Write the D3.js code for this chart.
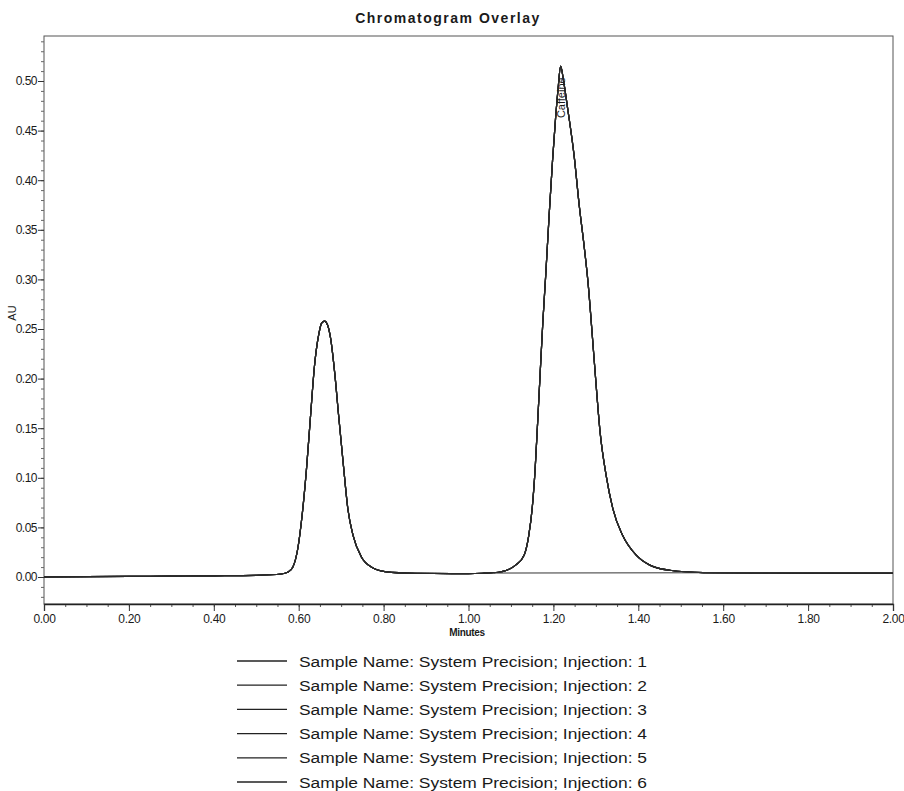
<!DOCTYPE html>
<html>
<head>
<meta charset="utf-8">
<script src="https://cdn.jsdelivr.net/npm/d3@7"></script>
<style>
  html, body { margin: 0; padding: 0; background: #fff; }
  svg { display: block; }
  text { font-family: "Liberation Sans", Arial, sans-serif; fill: #1a1a1a; }
</style>
</head>
<body>
<svg id="chart" width="904" height="791"></svg>
<script>
// ---- data ----
const title = "Chromatogram Overlay";
const xLabel = "Minutes";
const yLabel = "AU";
const peakName = "Caffeine";
const peakTime = 1.217;
const peakHeight = 0.515;

const xTickValues = [0.00, 0.20, 0.40, 0.60, 0.80, 1.00, 1.20, 1.40, 1.60, 1.80, 2.00];
const yTickValues = [0.00, 0.05, 0.10, 0.15, 0.20, 0.25, 0.30, 0.35, 0.40, 0.45, 0.50];

// retention time (min) and absorbance (AU) of the overlaid traces
const times = [0.00,0.10,0.20,0.30,0.40,0.50,0.559,
  0.575,0.586,0.598,0.608,0.618,0.628,0.637,0.647,0.654,0.661,
  0.668,0.675,0.685,0.694,0.705,0.716,0.728,0.748,0.772,0.803,
  0.874,0.96,1.00,1.032,
  1.071,1.111,1.131,1.142,1.150,1.157,1.163,1.169,1.175,1.182,
  1.190,1.198,1.205,1.211,1.217,
  1.224,1.233,1.249,1.261,1.272,1.282,1.291,1.300,1.310,1.324,
  1.340,1.363,1.395,1.427,1.474,1.553,1.671,
  1.80,1.90,2.00];
const absorbance = [0.000,0.0003,0.0006,0.0009,0.0012,0.0017,0.0030,
  0.0050,0.0098,0.029,0.062,0.107,0.163,0.212,0.244,0.256,0.258,
  0.254,0.241,0.205,0.163,0.114,0.068,0.042,0.020,0.0098,0.0055,
  0.0038,0.0035,0.0035,0.0038,
  0.0048,0.012,0.022,0.042,0.069,0.109,0.157,0.207,0.256,0.305,
  0.365,0.420,0.462,0.492,0.515,
  0.500,0.474,0.424,0.374,0.335,0.295,0.247,0.197,0.146,0.103,
  0.069,0.042,0.022,0.012,0.0068,0.0045,0.0042,
  0.0040,0.0040,0.0040];

// integration baseline under the caffeine peak
const baselineTimes = [1.06, 2.00];
const baselineAU = [0.0040, 0.0045];

const injections = ["1", "2", "3", "4", "5", "6"];
const legendPrefix = "Sample Name: System Precision; Injection: ";

// ---- layout ----
const svg = d3.select("#chart");
const plotLeft = 44, plotRight = 893, plotTop = 36, plotBottom = 604;

const x = d3.scaleLinear().domain([0, 2]).range([plotLeft, plotRight]);
const y = d3.scaleLinear().domain([0, 0.5]).range([577, 81]);

// frame
svg.append("rect")
  .attr("x", plotLeft).attr("y", plotTop)
  .attr("width", plotRight - plotLeft).attr("height", plotBottom - plotTop)
  .attr("fill", "none").attr("stroke", "#555").attr("stroke-width", 1);

// title
svg.append("text")
  .attr("x", 448).attr("y", 23)
  .attr("text-anchor", "middle")
  .style("font-size", "14px").style("font-weight", "bold")
  .style("letter-spacing", "1.5px")
  .text(title);

// x axis
const xMinor = d3.range(0, 2.0001, 0.05);
svg.append("g").attr("transform", `translate(0,${plotBottom})`)
  .call(d3.axisBottom(x).tickValues(xMinor).tickSize(3).tickFormat(""))
  .call(g => g.select(".domain").remove())
  .call(g => g.selectAll("line").attr("stroke", "#555"));
svg.append("g").attr("transform", `translate(0,${plotBottom})`)
  .call(d3.axisBottom(x).tickValues(xTickValues).tickSize(7).tickPadding(3).tickFormat(d3.format(".2f")))
  .call(g => g.select(".domain").attr("stroke", "#222").attr("stroke-width", 1.3))
  .call(g => g.selectAll("line").attr("stroke", "#333"))
  .call(g => g.selectAll("text").style("font-size", "12px").style("letter-spacing", "-0.3px").attr("fill", "#1a1a1a"));

// y axis
const yMinor = d3.range(-0.02, 0.5401, 0.01);
svg.append("g").attr("transform", `translate(${plotLeft},0)`)
  .call(d3.axisLeft(y).tickValues(yMinor).tickSize(3).tickFormat(""))
  .call(g => g.select(".domain").remove())
  .call(g => g.selectAll("line").attr("stroke", "#666"));
svg.append("g").attr("transform", `translate(${plotLeft},0)`)
  .call(d3.axisLeft(y).tickValues(yTickValues).tickSize(6).tickPadding(1).tickFormat(d3.format(".2f")))
  .call(g => g.select(".domain").remove())
  .call(g => g.selectAll("line").attr("stroke", "#333"))
  .call(g => g.selectAll("text").style("font-size", "12px").style("letter-spacing", "-0.5px").attr("fill", "#1a1a1a"));

// axis labels
svg.append("text")
  .attr("transform", "translate(16,313) rotate(-90)")
  .attr("text-anchor", "middle")
  .style("font-size", "11px")
  .text(yLabel);
svg.append("text")
  .attr("x", 467).attr("y", 636)
  .attr("text-anchor", "middle")
  .style("font-size", "10px").style("font-weight", "bold").style("letter-spacing", "-0.3px")
  .text(xLabel);

// traces
const trace = times.map((t, i) => ({ t, v: absorbance[i] }));
const line = d3.line().x(d => x(d.t)).y(d => y(d.v)).curve(d3.curveMonotoneX);

svg.append("g").selectAll("path.inj")
  .data(injections)
  .join("path")
  .attr("class", "inj")
  .attr("d", () => line(trace))
  .attr("fill", "none")
  .attr("stroke", "#2a2a2a")
  .attr("stroke-width", 1.2);

// baseline
const base = baselineTimes.map((t, i) => ({ t, v: baselineAU[i] }));
svg.append("path")
  .attr("d", d3.line().x(d => x(d.t)).y(d => y(d.v))(base))
  .attr("fill", "none").attr("stroke", "#333").attr("stroke-width", 1);

// peak label
svg.append("text")
  .attr("transform", `translate(${x(peakTime) + 4},${y(peakHeight) + 52}) rotate(-90)`)
  .style("font-size", "11px")
  .text(peakName);

// legend
const legend = svg.append("g").selectAll("g")
  .data(injections)
  .join("g")
  .attr("transform", (d, i) => `translate(0,${661 + i * 24.2})`);
legend.append("line")
  .attr("x1", 237).attr("x2", 287)
  .attr("y1", 0).attr("y2", 0)
  .attr("stroke", "#222").attr("stroke-width", 1.3);
legend.append("text")
  .attr("x", 299).attr("y", 5.5)
  .style("font-size", "15.5px")
  .attr("textLength", 348).attr("lengthAdjust", "spacingAndGlyphs")
  .text(d => legendPrefix + d);
</script>
</body>
</html>
